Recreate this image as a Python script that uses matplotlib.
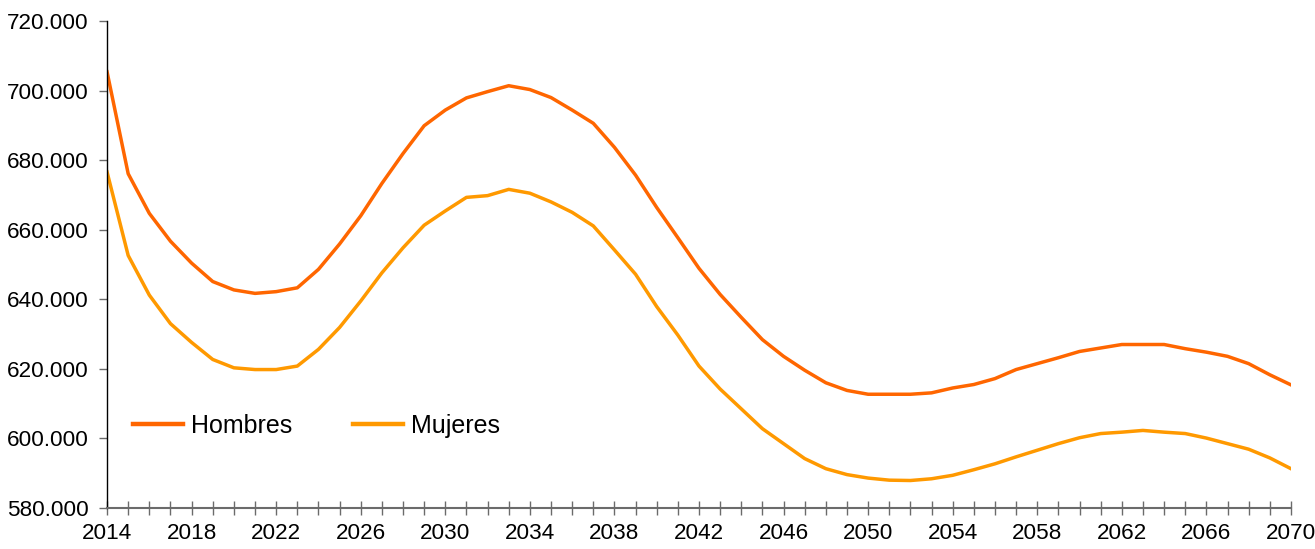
import matplotlib
matplotlib.use("Agg")
import matplotlib.pyplot as plt
from matplotlib.ticker import FuncFormatter

plt.rcParams['font.family'] = ['Liberation Sans', 'DejaVu Sans']

# años y población (personas)
anios = list(range(2014, 2071))

hombres = [
    705400, 676100, 664700, 656700, 650400, 645100, 642700, 641700, 642200, 643300,
    648600, 655900, 664000, 673300, 681900, 689900, 694400, 697900, 699700, 701400,
    700300, 698000, 694400, 690600, 683700, 675700, 666400, 657700, 648900, 641400,
    634800, 628400, 623600, 619600, 616000, 613800, 612700, 612700, 612700, 613100,
    614500, 615500, 617200, 619800, 621500, 623200, 625000, 626000, 627000, 627000,
    627000, 625800, 624800, 623600, 621500, 618300, 615400,
]

mujeres = [
    676600, 652600, 641200, 633000, 627600, 622700, 620300, 619800, 619800, 620800,
    625600, 631900, 639500, 647600, 654800, 661300, 665400, 669300, 669800, 671600,
    670500, 668000, 665000, 661100, 654200, 647200, 637900, 629700, 620800, 614200,
    608500, 602800, 598500, 594200, 591300, 589600, 588600, 588000, 587900, 588400,
    589400, 591000, 592700, 594700, 596600, 598500, 600200, 601400, 601800, 602300,
    601800, 601400, 600100, 598500, 596900, 594400, 591300,
]

color_h = '#FF6600'
color_m = '#FF9900'

fig = plt.figure(figsize=(13.15, 5.49), dpi=100)
ax = fig.add_axes([0.0814, 0.0747, 0.9003, 0.887])

ax.plot(anios, hombres, color=color_h, lw=2.5, label='Hombres', solid_joinstyle='round')
ax.plot(anios, mujeres, color=color_m, lw=2.5, label='Mujeres', solid_joinstyle='round')

ax.set_xlim(2014, 2070)
ax.set_ylim(580000, 720000)
ax.set_yticks(range(580000, 720001, 20000))
ax.yaxis.set_major_formatter(FuncFormatter(lambda v, p: f'{v:,.0f}'.replace(',', '.')))

# marca en cada año, etiqueta cada cuatro
ax.set_xticks(anios)
ax.set_xticklabels([str(a) if (a - 2014) % 4 == 0 else '' for a in anios])

for s in ['top', 'right']:
    ax.spines[s].set_visible(False)
ax.spines['left'].set_color('black')
ax.spines['left'].set_linewidth(1.0)
ax.spines['bottom'].set_color('#6b6b6b')
ax.spines['bottom'].set_linewidth(1.5)

ax.tick_params(axis='x', direction='inout', length=10, width=1, color='#6b6b6b',
               labelsize=16.2, pad=6)
ax.tick_params(axis='y', direction='out', length=6, width=1, color='#6b6b6b',
               labelsize=16.2, pad=7)

leg = ax.legend(loc='center left', bbox_to_anchor=(0.022, 0.168), frameon=False, ncol=2,
                fontsize=18, handlelength=2.0, handletextpad=0.3, columnspacing=2.45,
                borderaxespad=0, borderpad=0)
for linea in leg.get_lines():
    linea.set_linewidth(3.2)

fig.savefig('out.png', dpi=100)
